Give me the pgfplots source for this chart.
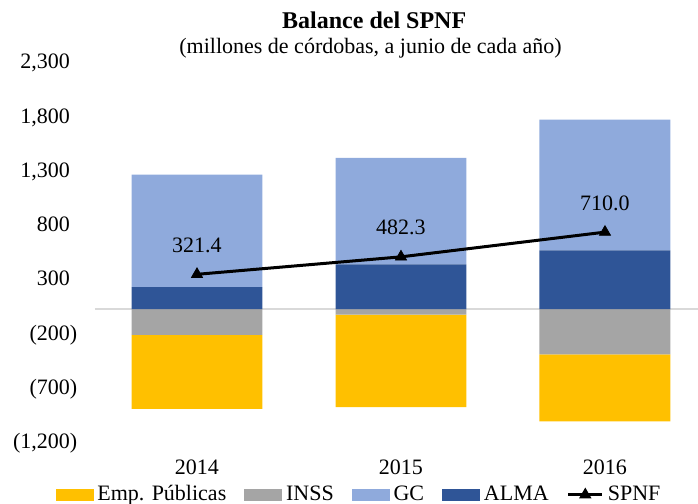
\documentclass[border=0pt]{standalone}
\usepackage{pgfplots}
\pgfplotsset{compat=1.18}
\usepackage{fontspec}
\setmainfont{Liberation Serif}
\definecolor{cEmp}{HTML}{FFC000}
\definecolor{cINSS}{HTML}{A5A5A5}
\definecolor{cGC}{HTML}{8FAADC}
\definecolor{cALMA}{HTML}{2F5597}
\pgfplotsset{
  base/.style={
    scale only axis, width=301.5pt, height=190pt,
    xmin=-0.5, xmax=2.456, ymin=-1200, ymax=2300,
    axis line style={draw=none},
    major tick length=0pt,
    xtick=\empty, ytick=\empty,
  }
}
\begin{document}
\fontsize{11}{13}\selectfont
\begin{tikzpicture}
\path[use as bounding box] (-47.5pt,-32.25pt) rectangle (301.5pt,219.75pt);
% axis A: ticks, zero line, negative bars
\begin{axis}[base,
  ybar stacked, bar width=0.642,
  xtick={0,1,2}, xticklabels={2014,2015,2016},
  ytick={-1200,-700,...,2300},
  yticklabels={{(1,200)},{(700)},{(200)},{300\phantom{)}},{800\phantom{)}},{1,300\phantom{)}},{1,800\phantom{)}},{2,300\phantom{)}}},
  yticklabel style={xshift=-5pt, yshift=-2pt},
  xticklabel style={yshift=-6.5pt},
  extra y ticks={0}, extra y tick labels={},
  extra y tick style={grid=major, major grid style={draw=black!15, line width=0.75pt}},
]
\addplot[fill=cINSS, draw=none] coordinates {(0,-236) (1,-49) (2,-417)};
\addplot[fill=cEmp, draw=none] coordinates {(0,-681) (1,-853) (2,-617)};
\end{axis}
% axis B: positive bars
\begin{axis}[base, ybar stacked, bar width=0.642]
\addplot[fill=cALMA, draw=none] coordinates {(0,203) (1,412) (2,541)};
\addplot[fill=cGC, draw=none] coordinates {(0,1037) (1,982) (2,1206)};
\end{axis}
% axis C: line, legend, titles
\begin{axis}[base, clip=false,
  legend columns=5,
  legend style={draw=none, fill=none, at={(0.4395,-0.1455)}, anchor=center,
    /tikz/every even column/.append style={column sep=7pt}},
]
\addlegendimage{legend image code/.code={\fill[cEmp] (0pt,-2.6pt) rectangle (18.5pt,2.6pt);}}
\addlegendentry{Emp. Públicas}
\addlegendimage{legend image code/.code={\fill[cINSS] (0pt,-2.6pt) rectangle (18.5pt,2.6pt);}}
\addlegendentry{INSS}
\addlegendimage{legend image code/.code={\fill[cGC] (0pt,-2.6pt) rectangle (18.5pt,2.6pt);}}
\addlegendentry{GC}
\addlegendimage{legend image code/.code={\fill[cALMA] (0pt,-2.6pt) rectangle (18.5pt,2.6pt);}}
\addlegendentry{ALMA}
\addplot[black, line width=1.5pt, mark=triangle*, mark size=3.2pt, mark options={line width=0.4pt},
  nodes near coords, point meta=explicit symbolic,
  every node near coord/.append style={anchor=south, yshift=7pt, black}]
  coordinates {(0,321.4)[321.4] (1,482.3)[482.3] (2,710.0)[710.0]};
\addlegendentry{SPNF}
\node[font=\bfseries\fontsize{12}{14}\selectfont] at (axis description cs:0.463,1.103) {Balance del SPNF};
\node at (axis description cs:0.457,1.029) {(millones de córdobas, a junio de cada año)};
\end{axis}
\end{tikzpicture}
\end{document}
